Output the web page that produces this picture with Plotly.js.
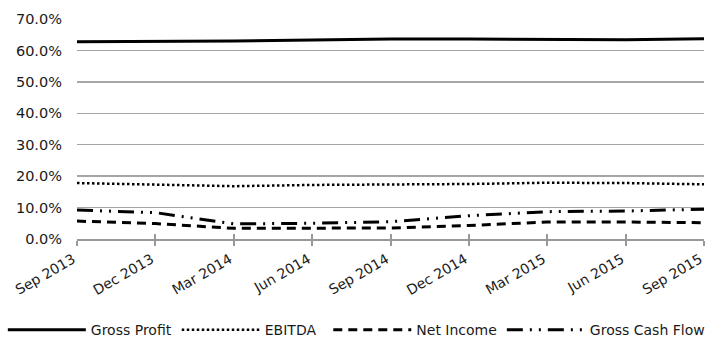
<!DOCTYPE html>
<html><head><meta charset="utf-8">
<script src="https://cdn.plot.ly/plotly-3.0.1.min.js"></script>
<style>html,body{margin:0;padding:0;background:#fff;}#chart{width:706px;height:341px;}</style>
</head><body><div id="chart"></div>
<script>
const categories = ["Sep 2013","Dec 2013","Mar 2014","Jun 2014","Sep 2014","Dec 2014","Mar 2015","Jun 2015","Sep 2015"];
const grossProfit = [62.8, 62.8, 63.0, 63.3, 63.6, 63.6, 63.5, 63.4, 63.7];
const ebitda = [17.8, 17.2, 16.8, 17.2, 17.3, 17.5, 17.9, 17.8, 17.4];
const netIncome = [5.7, 4.9, 3.4, 3.4, 3.5, 4.3, 5.4, 5.4, 5.2];
const grossCashFlow = [9.2, 8.4, 4.8, 5.0, 5.5, 7.4, 8.7, 8.9, 9.5];
const yTicks = [0,10,20,30,40,50,60,70];

const font = "'DejaVu Sans', sans-serif";
function tr(name, y, dash, w, lg){
  return {x: categories, y: y, name: name, type: 'scatter', mode: 'lines', legend: lg,
    line: {color: '#000', width: w, dash: dash}, hoverinfo: 'skip'};
}
const data = [
  tr('Gross Profit', grossProfit, 'solid', 3, 'legend'),
  tr('EBITDA', ebitda, '2.5px,2.5px', 2.5, 'legend'),
  tr('Net Income', netIncome, '9px,6px', 3, 'legend2'),
  tr('Gross Cash Flow', grossCashFlow, '16px,7px,2px,7px,2px,7px', 3, 'legend2'),
  {x: categories, y: [null,null,null,null,null,null,null,null,null], xaxis: 'x2', yaxis: 'y', showlegend: false, type: 'scatter', hoverinfo: 'skip'}
];
const legendBase = {orientation: 'h', xref: 'container', xanchor: 'left', y: -0.414, yanchor: 'middle',
    font: {size: 14, color: '#1a1a1a'}, itemwidth: 78, tracegroupgap: 0, itemclick: false,
    bgcolor: 'rgba(0,0,0,0)'};
const layout = {
  width: 706, height: 341,
  margin: {l: 77, r: 2, t: 19, b: 102, autoexpand: false},
  paper_bgcolor: '#fff', plot_bgcolor: '#fff',
  font: {family: font, size: 14, color: '#1a1a1a'},
  showlegend: true,
  legend: Object.assign({}, legendBase, {x: 0.004}),
  legend2: Object.assign({}, legendBase, {x: 0.465}),
  xaxis: {type: 'category', range: [0, 8], showgrid: false, zeroline: false, automargin: false,
    showline: true, linecolor: '#999', linewidth: 2,
    ticks: 'outside', ticklen: 5, tickwidth: 2, tickcolor: '#999',
    tickangle: -30, tickfont: {size: 14}, ticklabelshift: -4},
  xaxis2: {type: 'category', range: [0, 8], overlaying: 'x', anchor: 'y', side: 'bottom', automargin: false,
    showgrid: false, zeroline: false, showline: false, showticklabels: false,
    ticks: 'inside', ticklen: 5, tickwidth: 2, tickcolor: '#999'},
  yaxis: {range: [0, 70], tickvals: yTicks, ticktext: yTicks.map(v => v.toFixed(1) + '%'), automargin: false,
    showgrid: true, gridcolor: '#a6a6a6', gridwidth: 1.5, zeroline: false, showline: false,
    ticks: '', tickfont: {size: 14.5}, ticklabelstandoff: 14}
};
Plotly.newPlot('chart', data, layout, {displayModeBar: false, staticPlot: true});
</script></body></html>
